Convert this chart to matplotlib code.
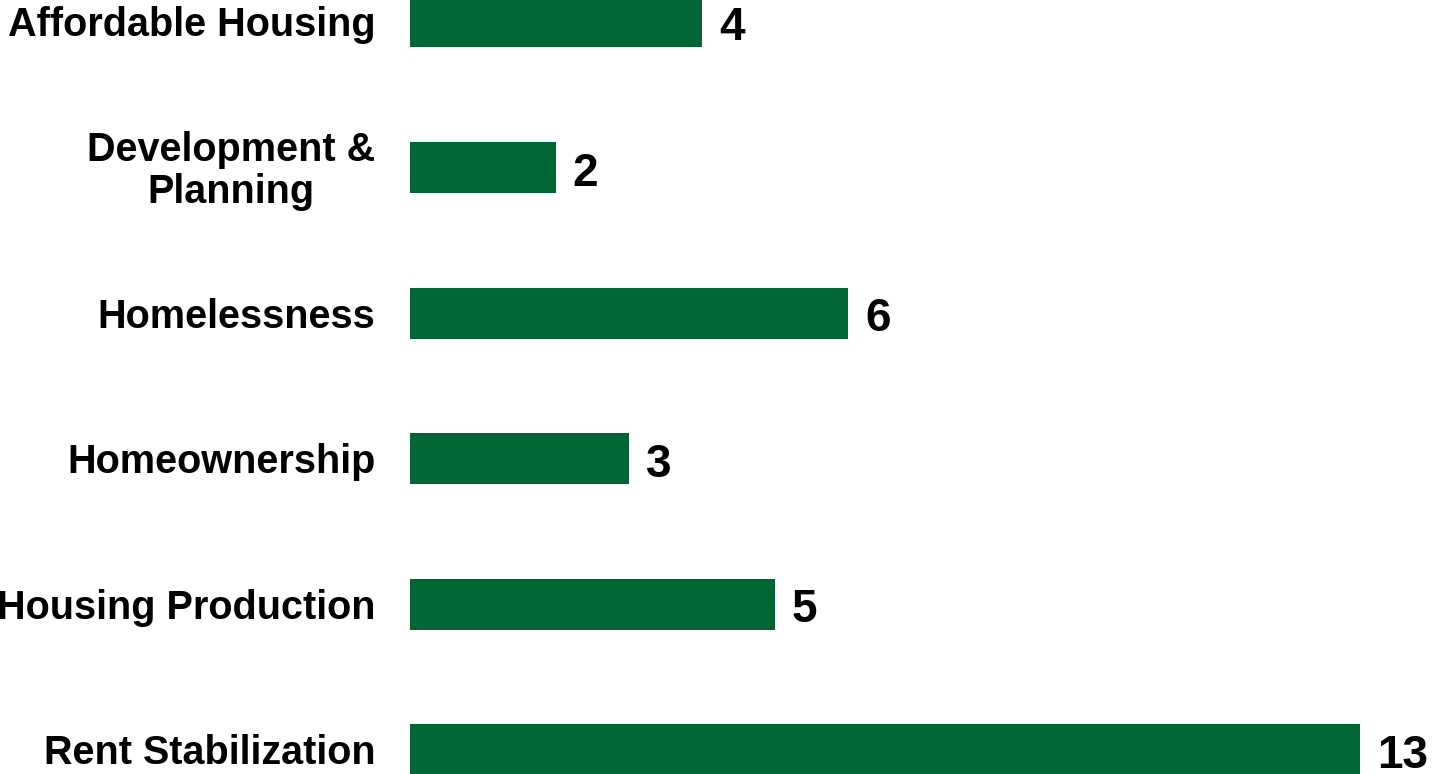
import matplotlib
matplotlib.use("Agg")
import matplotlib.pyplot as plt

categories = ["Affordable Housing", "Development &\nPlanning", "Homelessness",
              "Homeownership", "Housing Production", "Rent Stabilization"]
values = [4, 2, 6, 3, 5, 13]

plt.rcParams['font.family'] = ['Liberation Sans', 'DejaVu Sans']

W, H = 1432, 774
fig = plt.figure(figsize=(W / 100, H / 100), dpi=100)
ax = fig.add_axes([410 / W, 0, 1 - 410 / W, 1])

pos = list(range(len(categories)))
ax.barh(pos, values, height=0.35, color="#006633")
ax.set_ylim(5.165, -0.151)
ax.set_xlim(0, 13.985)

for p, v in zip(pos, values):
    ax.annotate(str(v), xy=(v, p), xytext=(12, -13), textcoords="offset points",
                va="baseline", ha="left", fontsize=33, fontweight="bold",
                color="black", annotation_clip=False)

for p, c in zip(pos, categories):
    ax.annotate(c, xy=(0, p), xytext=(-25, -2.5), textcoords="offset points",
                va="center", ha="right", multialignment="center",
                fontsize=28.5, fontweight="bold", linespacing=1.15,
                color="black", annotation_clip=False)

ax.set_yticks([])
ax.set_xticks([])
for s in ax.spines.values():
    s.set_visible(False)

fig.savefig("out.png", dpi=100)
